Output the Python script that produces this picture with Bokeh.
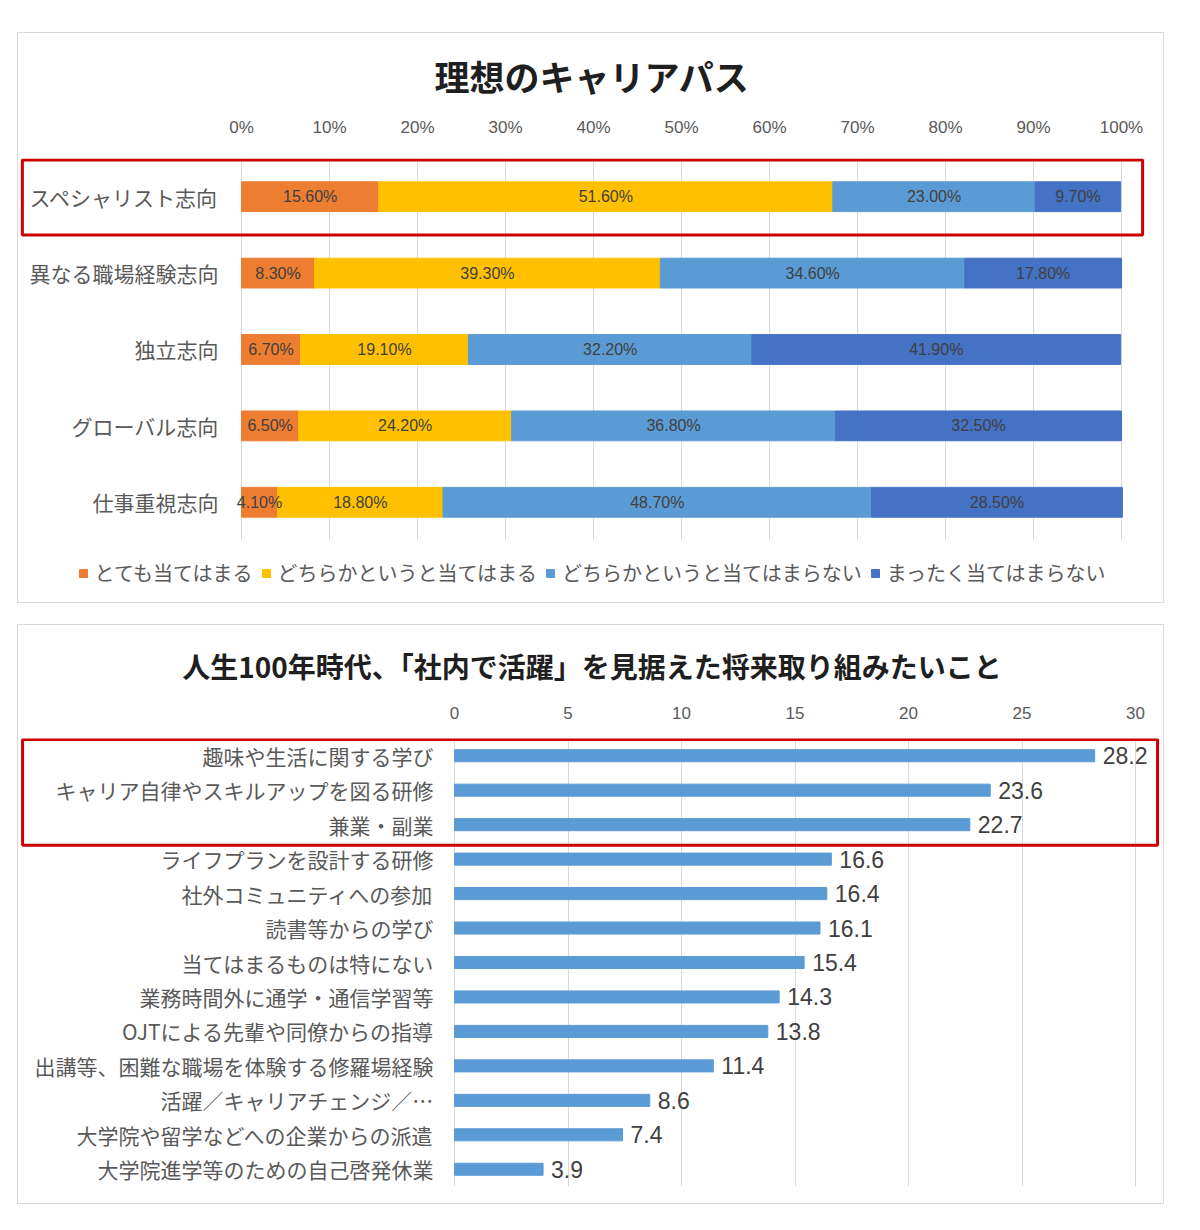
from bokeh.plotting import figure
from bokeh.models import (ColumnDataSource, FactorRange, Range1d, FixedTicker,
                          Legend, LegendItem, BoxAnnotation)
from bokeh.layouts import column
from bokeh.embed import file_html
from bokeh.resources import INLINE
from bokeh.core.properties import value

# ---------------- data: 理想のキャリアパス ----------------
career_title = "理想のキャリアパス"
career_types = ["スペシャリスト志向", "異なる職場経験志向", "独立志向", "グローバル志向", "仕事重視志向"]
answer_labels = ["とても当てはまる", "どちらかというと当てはまる",
                 "どちらかというと当てはまらない", "まったく当てはまらない"]
very_true = [15.6, 8.3, 6.7, 6.5, 4.1]
somewhat_true = [51.6, 39.3, 19.1, 24.2, 18.8]
somewhat_false = [23.0, 34.6, 32.2, 36.8, 48.7]
not_true = [9.7, 17.8, 41.9, 32.5, 28.5]
pct_ticks = [0, 10, 20, 30, 40, 50, 60, 70, 80, 90, 100]
pct_tick_labels = ["0%", "10%", "20%", "30%", "40%", "50%", "60%", "70%", "80%", "90%", "100%"]

# ---------------- data: 将来取り組みたいこと ----------------
future_title = "人生100年時代、「社内で活躍」を見据えた将来取り組みたいこと"
activities = [
    "趣味や生活に関する学び",
    "キャリア自律やスキルアップを図る研修",
    "兼業・副業",
    "ライフプランを設計する研修",
    "社外コミュニティへの参加",
    "読書等からの学び",
    "当てはまるものは特にない",
    "業務時間外に通学・通信学習等",
    "OJTによる先輩や同僚からの指導",
    "出講等、困難な職場を体験する修羅場経験",
    "活躍／キャリアチェンジ／…",
    "大学院や留学などへの企業からの派遣",
    "大学院進学等のための自己啓発休業",
]
activity_values = [28.2, 23.6, 22.7, 16.6, 16.4, 16.1, 15.4, 14.3, 13.8, 11.4, 8.6, 7.4, 3.9]
value_ticks = [0, 5, 10, 15, 20, 25, 30]

# ---------------- styling ----------------
JP = "Noto Sans CJK JP"
NUM = "Liberation Sans"
GRAY = "#595959"
DARK = "#404040"
TITLE_COLOR = "#1f1f1f"
GRID = "#D9D9D9"
HILITE = "#CC0000"
SEG_COLORS = ["#ED7D31", "#FFC000", "#5B9BD5", "#4472C4"]
BAR_COLOR = "#5B9BD5"
PANEL_STYLE = {"border": "1px solid #D9D9D9"}


def style_panel(p, ticks, overrides, standoff_x, title_size, title_standoff):
    # value axis on top; category names are drawn as text beside the bars
    xa = p.xaxis[0]
    xa.ticker = FixedTicker(ticks=ticks)
    if overrides:
        xa.major_label_overrides = overrides
    xa.axis_line_color = None
    xa.major_tick_line_color = None
    xa.minor_tick_line_color = None
    xa.major_label_text_font = NUM
    xa.major_label_text_font_size = "17px"
    xa.major_label_text_color = GRAY
    xa.major_label_standoff = standoff_x

    p.ygrid.grid_line_color = None
    p.outline_line_color = None

    p.title.align = "center"
    p.title.text_font = JP
    p.title.text_font_size = title_size
    p.title.text_font_style = "bold"
    p.title.text_color = TITLE_COLOR
    p.title.standoff = title_standoff


# ================= top panel: stacked percentage bars =================
rows = list(range(len(career_types)))          # row index, first category on top
p1 = figure(width=1147, height=571, title=career_title,
            x_range=Range1d(-25.34, 105.0),
            y_range=Range1d(5.338, -0.5),
            x_axis_location="above", y_axis_location=None,
            output_backend="svg", toolbar_location=None,
            min_border_left=0, min_border_right=0,
            min_border_top=125, min_border_bottom=0)
p1.margin = (32, 0, 0, 17)
p1.styles = PANEL_STYLE
style_panel(p1, pct_ticks, dict(zip(pct_ticks, pct_tick_labels)), 16, "35px", 27)
p1.xgrid.grid_line_color = None

# vertical grid lines only across the band of bars
grid_src = ColumnDataSource(dict(t=pct_ticks))
p1.segment(x0="t", x1="t", y0=rows[0] - 0.5, y1=rows[-1] + 0.5, source=grid_src,
           line_color=GRID, line_width=1)

keys = ["very", "swt", "swf", "not"]
series = [very_true, somewhat_true, somewhat_false, not_true]
src1 = ColumnDataSource(dict(career=career_types, row=rows, **dict(zip(keys, series))))
stack = p1.hbar_stack(keys, y="row", height=0.39, color=SEG_COLORS, source=src1)

# category names, right-aligned just left of the 0% line
p1.text(x=0, y="row", text="career", source=src1, x_offset=-23,
        text_align="right", text_baseline="middle",
        text_font=value(JP), text_font_size="21px", text_color=GRAY)

# segment value labels at the middle of each stacked piece
lx, ly, lt = [], [], []
for r in rows:
    start = 0.0
    for s in series:
        v = s[r]
        lx.append(start + v / 2)
        ly.append(r)
        lt.append(f"{v:.2f}%")
        start += v
p1.text(x="x", y="y", text="t", source=ColumnDataSource(dict(x=lx, y=ly, t=lt)),
        text_align="center", text_baseline="middle",
        text_font=value(NUM), text_font_size="16px", text_color=DARK)

p1.add_layout(BoxAnnotation(left=-24.9, right=102.4, bottom=rows[0] + 0.5, top=rows[0] - 0.48,
                            fill_color=None, fill_alpha=0,
                            line_color=HILITE, line_alpha=1, line_width=3))

legend = Legend(items=[LegendItem(label=lab, renderers=[r]) for lab, r in zip(answer_labels, stack)],
                orientation="horizontal", location="bottom_center",
                glyph_width=10, glyph_height=10, label_standoff=7, spacing=8,
                padding=0, margin=17, border_line_color=None, background_fill_alpha=0,
                label_text_font=JP, label_text_font_size="20px", label_text_color=GRAY)
p1.add_layout(legend)

# ================= bottom panel: single-series bars =================
p2 = figure(width=1147, height=580, title=future_title,
            x_range=Range1d(-19.21, 31.32),
            y_range=FactorRange(factors=activities[::-1]),
            x_axis_location="above", y_axis_location=None,
            output_backend="svg", toolbar_location=None,
            min_border_left=0, min_border_right=0,
            min_border_top=113, min_border_bottom=19)
p2.margin = (21, 0, 0, 17)
p2.styles = PANEL_STYLE
style_panel(p2, value_ticks, None, 14, "28px", 35)
p2.xgrid.ticker = FixedTicker(ticks=value_ticks)
p2.xgrid.grid_line_color = GRID

src2 = ColumnDataSource(dict(act=activities, val=activity_values,
                             txt=[f"{v:.1f}" for v in activity_values]))
p2.hbar(y="act", right="val", height=0.35, color=BAR_COLOR, source=src2)
p2.text(x=0, y="act", text="act", source=src2, x_offset=-21,
        text_align="right", text_baseline="middle",
        text_font=value(JP), text_font_size="21px", text_color=GRAY)
p2.text(x="val", y="act", text="txt", source=src2, x_offset=8,
        text_align="left", text_baseline="middle",
        text_font=value(NUM), text_font_size="23px", text_color=DARK)

p2.add_layout(BoxAnnotation(left=-19.03, right=30.97, bottom=9.9, top=12.97,
                            fill_color=None, fill_alpha=0,
                            line_color=HILITE, line_alpha=1, line_width=3))

layout = column(p1, p2)
open("out.html", "w").write(file_html(layout, INLINE))
